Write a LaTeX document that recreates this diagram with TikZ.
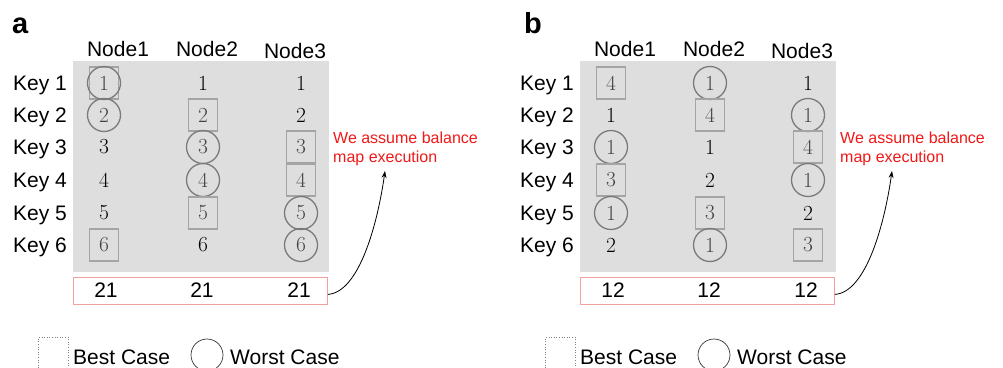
\documentclass[tikz,border=0pt]{standalone}
\usepackage{fontspec}
\setsansfont{Liberation Sans}
\usetikzlibrary{arrows.meta}
\definecolor{panelgray}{HTML}{DEDEDE}
\definecolor{boxgray}{HTML}{A4A4A4}
\definecolor{circgray}{HTML}{7A7A7A}
\definecolor{sumred}{HTML}{F2A0A0}
\definecolor{notered}{HTML}{F01818}
\definecolor{digitgray}{HTML}{444444}
\newcommand{\panelframe}[2]{%
  \node[fill=panelgray, minimum width=256pt, minimum height=211pt, anchor=north west, inner sep=0pt] (#1bg) at (73,61) {};
  \foreach \i/\yy in {1/83,2/115,3/147,4/180,5/213,6/245}
    \node[lab, anchor=base east] (#1k\i) at (67,\yy+7.5) {Key \i};
  \foreach \j/\xx/\yb in {1/118/56,2/207/56,3/295/58}
    \node[lab, anchor=base] (#1n\j) at (\xx,\yb) {Node\j};
  \node[draw=sumred, line width=0.8pt, minimum width=254pt, minimum height=27pt, anchor=north west, inner sep=0pt] (#1sum) at (73,277) {};
  \node[lab] (#1s1) at (106,290) {#2};
  \node[lab] (#1s2) at (202,290) {#2};
  \node[lab] (#1s3) at (299,290) {#2};
  \node[font=\sffamily\fontsize{16}{19.5}\selectfont, text=notered, align=left, anchor=west, inner sep=0pt] (#1note) at (333,149) {We assume balance\\map execution};
  \coordinate (#1tip) at (385,171);
  \draw[-{Stealth[length=7pt,width=5pt]}, line width=0.8pt] ([yshift=-3.5pt]#1sum.east) .. controls +(32,-2) and +(-7,50) .. (#1tip);
  \node[draw=gray, dotted, line width=0.6pt, minimum width=30pt, minimum height=40pt, anchor=north west, inner sep=0pt] (#1lb) at (38,337) {};
  \node[lab, anchor=base west] (#1lbt) at (73,364) {Best Case};
  \node[circle, draw=black!80, line width=0.7pt, minimum size=32pt, inner sep=0pt] (#1lw) at (207,355) {};
  \node[lab, anchor=base west] (#1lwt) at (230,364) {Worst Case};
}
\begin{document}
\begin{tikzpicture}[x=1pt,y=-1pt,
  lab/.style={font=\sffamily\fontsize{21}{25}\selectfont, inner sep=0pt},
  cell/.style={font=\fontsize{21.5}{25}\selectfont, inner sep=0pt},
  bc/.style={cell, text=digitgray, draw=boxgray, line width=1.3pt, minimum width=29pt, minimum height=32pt},
  wc/.style={cell, text=digitgray, circle, draw=circgray, line width=1.3pt, minimum size=33pt},
  ring/.style={circle, draw=circgray, line width=1.3pt, minimum size=33pt, inner sep=0pt}]
\useasboundingbox (0,0) rectangle (1003,367);
\node[font=\sffamily\bfseries\fontsize{29}{32}\selectfont, anchor=base west, inner sep=0pt] (pa) at (12,33) {a};
\node[font=\sffamily\bfseries\fontsize{29}{32}\selectfont, anchor=base west, inner sep=0pt] (pb) at (524,33) {b};
% panel a
\begin{scope}
\panelframe{a}{21}
\node[bc] (a11) at (104,83) {1}; \node[ring] (a11w) at (104,83) {};
\node[cell] (a12) at (203,83) {1};
\node[cell] (a13) at (301,83) {1};
\node[wc] (a21) at (104,115) {2};
\node[bc] (a22) at (203,115) {2};
\node[cell] (a23) at (301,115) {2};
\node[cell] (a31) at (104,147) {3};
\node[wc] (a32) at (203,147) {3};
\node[bc] (a33) at (301,147) {3};
\node[cell] (a41) at (104,180) {4};
\node[wc] (a42) at (203,180) {4};
\node[bc] (a43) at (301,180) {4};
\node[cell] (a51) at (104,213) {5};
\node[bc] (a52) at (203,213) {5};
\node[wc] (a53) at (301,213) {5};
\node[bc] (a61) at (104,245) {6};
\node[cell] (a62) at (203,245) {6};
\node[wc] (a63) at (301,245) {6};
\end{scope}
% panel b
\begin{scope}[xshift=507pt]
\panelframe{b}{12}
\node[bc] (b11) at (104,83) {4};
\node[wc] (b12) at (203,83) {1};
\node[cell] (b13) at (301,83) {1};
\node[cell] (b21) at (104,115) {1};
\node[bc] (b22) at (203,115) {4};
\node[wc] (b23) at (301,115) {1};
\node[wc] (b31) at (104,147) {1};
\node[cell] (b32) at (203,147) {1};
\node[bc] (b33) at (301,147) {4};
\node[bc] (b41) at (104,180) {3};
\node[cell] (b42) at (203,180) {2};
\node[wc] (b43) at (301,180) {1};
\node[wc] (b51) at (104,213) {1};
\node[bc] (b52) at (203,213) {3};
\node[cell] (b53) at (301,213) {2};
\node[cell] (b61) at (104,245) {2};
\node[wc] (b62) at (203,245) {1};
\node[bc] (b63) at (301,245) {3};
\end{scope}
\end{tikzpicture}
\end{document}
